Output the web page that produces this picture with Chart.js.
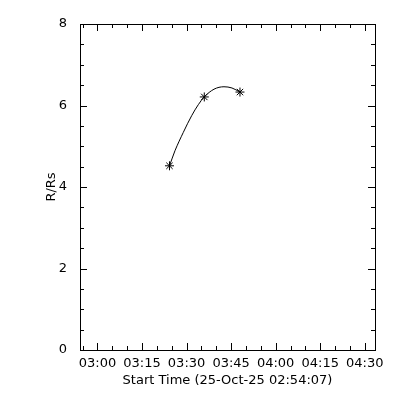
<!DOCTYPE html>
<html>
<head>
<meta charset="utf-8">
<script src="https://cdn.jsdelivr.net/npm/chart.js@4/dist/chart.umd.min.js"></script>
<style>
    html, body { margin: 0; padding: 0; background: #fff; }
</style>
</head>
<body>
<canvas id="grafico" width="400" height="400"></canvas>
<script>
// hora de referencia do eixo x
const inicio = '02:54:07';

// medidas (asteriscos)
const tempos = ['03:24:15', '03:35:58', '03:47:59'];
const alturas = [4.52, 6.21, 6.33];

// curva ajustada
const temposAjuste = ['03:24:15', '03:26:06', '03:28:54', '03:31:43', '03:33:57', '03:35:58',
    '03:39:14', '03:42:36', '03:45:17', '03:47:59'];
const alturasAjuste = [4.52, 4.89, 5.34, 5.75, 6.02, 6.21, 6.40, 6.46, 6.43, 6.33];

// eixos
const rotulosX = ['03:00', '03:15', '03:30', '03:45', '04:00', '04:15', '04:30'];
const rotulosY = [0, 2, 4, 6, 8];
const fimX = 5960; // segundos depois do inicio

function segundos(hora) {
    const [h, m, s] = hora.split(':').map(Number);
    return h * 3600 + m * 60 + (s || 0);
}

function desdeInicio(hora) {
    return segundos(hora) - segundos(inicio);
}

function formatarHora(seg) {
    const total = Math.round(seg + segundos(inicio));
    const h = Math.floor(total / 3600);
    const m = Math.floor((total % 3600) / 60);
    return String(h).padStart(2, '0') + ':' + String(m).padStart(2, '0');
}

function ticksX() {
    const maiores = rotulosX.map(desdeInicio);
    const ticks = [];
    for (let t = maiores[0] - 300; t <= fimX; t += 300) {
        if (t < 0) continue;
        ticks.push({ value: t, major: maiores.includes(t) });
    }
    return ticks;
}

// caixa fechada com marcas para dentro, como no IDL
const moldura = {
    id: 'moldura',
    afterDraw(chart) {
        const { ctx, chartArea: a, scales } = chart;
        ctx.save();
        ctx.strokeStyle = '#000';
        ctx.lineWidth = 1;
        ctx.strokeRect(a.left + 0.5, a.top + 0.5, a.right - a.left, a.bottom - a.top);
        ctx.beginPath();
        scales.x.ticks.forEach(t => {
            const x = Math.round(scales.x.getPixelForValue(t.value)) + 0.5;
            const len = t.major ? 7 : 4;
            ctx.moveTo(x, a.bottom); ctx.lineTo(x, a.bottom - len);
            ctx.moveTo(x, a.top); ctx.lineTo(x, a.top + len);
        });
        scales.y.ticks.forEach(t => {
            const y = Math.round(scales.y.getPixelForValue(t.value)) + 0.5;
            const len = rotulosY.includes(t.value) ? 7 : 4;
            ctx.moveTo(a.left, y); ctx.lineTo(a.left + len, y);
            ctx.moveTo(a.right, y); ctx.lineTo(a.right - len, y);
        });
        ctx.stroke();
        ctx.restore();
    }
};

function carregarGrafico() {
    Chart.defaults.font.family = "'DejaVu Sans', sans-serif";
    Chart.defaults.font.size = 13;
    Chart.defaults.color = '#000';

    const ctx = document.getElementById('grafico').getContext('2d');
    new Chart(ctx, {
        type: 'scatter',
        data: {
            datasets: [{
                label: 'ajuste',
                data: temposAjuste.map((t, i) => ({ x: desdeInicio(t), y: alturasAjuste[i] })),
                showLine: true,
                borderColor: '#000',
                borderWidth: 1,
                cubicInterpolationMode: 'monotone',
                pointRadius: 0
            }, {
                label: 'R/Rs',
                data: tempos.map((t, i) => ({ x: desdeInicio(t), y: alturas[i] })),
                showLine: false,
                pointStyle: 'star',
                pointRadius: 4.5,
                borderColor: '#000',
                backgroundColor: '#000',
                borderWidth: 1
            }]
        },
        options: {
            responsive: false,
            animation: false,
            layout: { padding: { top: 24, right: 25, left: 0, bottom: 0 } },
            plugins: { legend: { display: false }, tooltip: { enabled: false } },
            scales: {
                x: {
                    type: 'linear',
                    min: 0,
                    max: fimX,
                    grid: { display: false },
                    border: { display: false },
                    afterBuildTicks: scale => { scale.ticks = ticksX(); },
                    afterFit: scale => { scale.height = 50; },
                    ticks: {
                        autoSkip: false,
                        maxRotation: 0,
                        padding: -2,
                        callback: (v, i, ticks) => ticks[i].major ? formatarHora(v) : ''
                    },
                    title: {
                        display: true,
                        text: 'Start Time (25-Oct-25 ' + inicio + ')',
                        padding: { top: 0, bottom: 12 }
                    }
                },
                y: {
                    min: 0,
                    max: 8,
                    grid: { display: false },
                    border: { display: false },
                    afterFit: scale => { scale.width = 80; },
                    ticks: {
                        stepSize: 0.5,
                        autoSkip: false,
                        padding: 5,
                        callback: v => rotulosY.includes(v) ? v : ''
                    },
                    title: {
                        display: true,
                        text: 'R/Rs',
                        padding: { top: 44, bottom: 0 }
                    }
                }
            }
        },
        plugins: [moldura]
    });
}

document.addEventListener('DOMContentLoaded', carregarGrafico);
</script>
</body>
</html>
